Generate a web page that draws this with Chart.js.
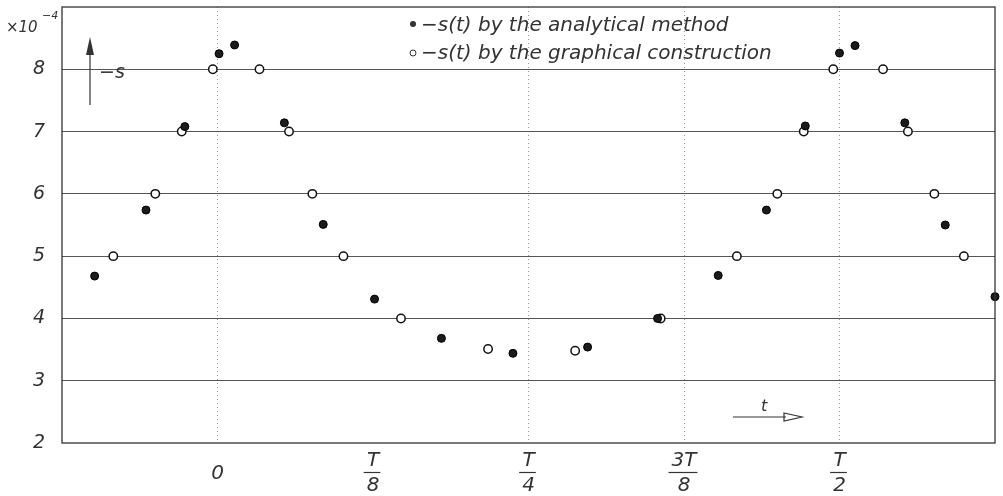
<!DOCTYPE html>
<html>
<head>
<meta charset="utf-8">
<script src="https://cdn.jsdelivr.net/npm/chart.js@4/dist/chart.umd.min.js"></script>
<style>
  html, body { margin: 0; padding: 0; background: #fff; }
  canvas { display: block; }
</style>
</head>
<body>
<canvas id="sChart" width="1003" height="496"></canvas>
<script>
/* x in Einheiten von T/8, y in Einheiten von 1e-4 */
const xTicks      = [0, 1, 2, 3, 4];
const xTickLabels = ['0', 'T/8', 'T/4', '3T/8', 'T/2'];
const yTicks      = [2, 3, 4, 5, 6, 7, 8, 9];

// -s(t), analytische Methode (gefüllte Punkte)
const analyticX = [-0.79, -0.46, -0.21, 0.01, 0.11, 0.43, 0.68, 1.01, 1.44, 1.90, 2.38, 2.83,
                   3.22, 3.53, 3.78, 4.00, 4.10, 4.42, 4.68, 5.00];
const analyticY = [4.68, 5.74, 7.08, 8.25, 8.39, 7.14, 5.51, 4.31, 3.68, 3.44, 3.54, 4.00,
                   4.69, 5.74, 7.09, 8.26, 8.38, 7.14, 5.50, 4.35];

// -s(t), grafische Konstruktion (offene Punkte)
const graphicX = [-0.67, -0.40, -0.23, -0.03, 0.27, 0.46, 0.61, 0.81, 1.18, 1.74, 2.30, 2.85,
                  3.34, 3.60, 3.77, 3.96, 4.28, 4.44, 4.61, 4.80];
const graphicY = [5.00, 6.00, 7.00, 8.00, 8.00, 7.00, 6.00, 5.00, 4.00, 3.51, 3.48, 4.00,
                  5.00, 6.00, 7.00, 8.00, 8.00, 7.00, 6.00, 5.00];

const legendLabels = ['\u2212s(t) by the analytical method', '\u2212s(t) by the graphical construction'];

const FONT = "'DejaVu Sans', 'Liberation Sans', sans-serif";
const INK  = '#333';

function toPoints(xs, ys) { return xs.map((x, i) => ({ x, y: ys[i] })); }

/* Rahmen, Legende, Pfeile, Bruchstriche */
const overlay = {
  id: 'overlay',
  afterDraw(chart) {
    const { ctx, chartArea: a, scales: { x } } = chart;
    ctx.save();

    // Rahmen
    ctx.strokeStyle = '#333';
    ctx.lineWidth = 1.3;
    ctx.strokeRect(a.left, a.top, a.right - a.left, a.bottom - a.top);

    // Bruchstriche unter den Zählern
    ctx.font = 'italic 20px ' + FONT;
    ctx.lineWidth = 1.2;
    ctx.strokeStyle = INK;
    xTickLabels.forEach((lab, i) => {
      if (lab.indexOf('/') < 0) return;
      const [num, den] = lab.split('/');
      const w = Math.max(ctx.measureText(num).width, ctx.measureText(den).width) + 4;
      const px = x.getPixelForValue(xTicks[i]) - 1;
      ctx.beginPath();
      ctx.moveTo(px - w / 2, 472.5);
      ctx.lineTo(px + w / 2, 472.5);
      ctx.stroke();
    });

    // Legende
    ctx.fillStyle = INK;
    ctx.textBaseline = 'alphabetic';
    ctx.font = 'italic 20px ' + FONT;
    ctx.beginPath(); ctx.arc(413, 24, 3, 0, Math.PI * 2); ctx.fill();
    ctx.fillText(legendLabels[0], 421, 31);
    ctx.beginPath(); ctx.arc(413, 53, 3, 0, Math.PI * 2);
    ctx.lineWidth = 1; ctx.stroke();
    ctx.fillText(legendLabels[1], 421, 59);

    // x10^-4
    ctx.font = 'italic 15px ' + FONT;
    ctx.fillText('\u00d710', 6, 32);
    ctx.font = 'italic 11px ' + FONT;
    ctx.fillText('\u22124', 42, 19);

    // Pfeil -s
    ctx.lineWidth = 1.2;
    ctx.beginPath(); ctx.moveTo(90, 105); ctx.lineTo(90, 52); ctx.stroke();
    ctx.beginPath(); ctx.moveTo(90, 37); ctx.lineTo(86, 55); ctx.lineTo(94, 55); ctx.closePath(); ctx.fill();
    ctx.font = 'italic 19px ' + FONT;
    ctx.fillText('\u2212s', 99, 78);

    // Pfeil t
    ctx.beginPath(); ctx.moveTo(733, 417); ctx.lineTo(786, 417); ctx.stroke();
    ctx.beginPath(); ctx.moveTo(784, 413); ctx.lineTo(802, 417); ctx.lineTo(784, 421); ctx.closePath(); ctx.stroke();
    ctx.font = 'italic 16px ' + FONT;
    ctx.fillText('t', 761, 411);

    ctx.restore();
  }
};

new Chart(document.getElementById('sChart'), {
  type: 'scatter',
  data: {
    datasets: [
      {
        label: legendLabels[0],
        data: toPoints(analyticX, analyticY),
        pointRadius: 4,
        pointBackgroundColor: '#1b1b1b',
        pointBorderColor: '#000',
        pointBorderWidth: 1,
        clip: false
      },
      {
        label: legendLabels[1],
        data: toPoints(graphicX, graphicY),
        pointRadius: 4.2,
        pointBackgroundColor: '#fff',
        pointBorderColor: '#111',
        pointBorderWidth: 1.5,
        clip: false
      }
    ]
  },
  options: {
    responsive: false,
    animation: false,
    layout: { padding: { top: 7, right: 8, left: 0, bottom: 0 } },
    plugins: { legend: { display: false }, tooltip: { enabled: false } },
    scales: {
      x: {
        type: 'linear',
        min: -1, max: 5,
        afterBuildTicks: s => { s.ticks = xTicks.map(v => ({ value: v })); },
        afterFit: s => { s.height = 53; s.paddingLeft = 0; s.paddingRight = 0; },
        border: { display: false, dash: [1, 3] },
        grid: {
          drawTicks: false,
          color: c => (c.tick && c.tick.value === 1) ? 'rgba(0,0,0,0)' : '#999',
          lineWidth: 1
        },
        ticks: {
          padding: 18,
          crossAlign: 'center',
          color: INK,
          font: { family: FONT, size: 20, style: 'italic', lineHeight: 1.25 },
          callback: (v) => {
            const lab = xTickLabels[xTicks.indexOf(v)];
            return lab.indexOf('/') < 0 ? lab : lab.split('/');
          }
        }
      },
      y: {
        min: 2, max: 9,
        afterBuildTicks: s => { s.ticks = yTicks.map(v => ({ value: v })); },
        afterFit: s => { s.width = 62; s.paddingTop = 0; s.paddingBottom = 0; },
        border: { display: false },
        grid: {
          drawTicks: false,
          color: c => (c.tick && c.tick.value > 2 && c.tick.value < 9) ? '#555' : 'rgba(0,0,0,0)',
          lineWidth: 1.1
        },
        ticks: {
          padding: 17,
          color: INK,
          font: { family: FONT, size: 19, style: 'italic' },
          callback: v => v === 9 ? '' : String(v)
        }
      }
    }
  },
  plugins: [overlay]
});
</script>
</body>
</html>
